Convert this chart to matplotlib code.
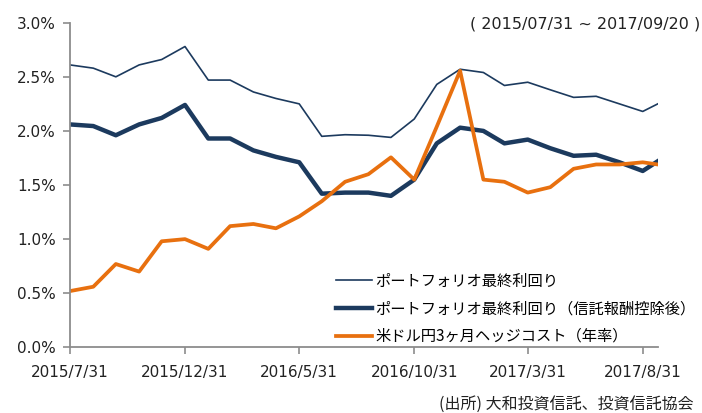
import matplotlib
matplotlib.use('Agg')
import matplotlib.pyplot as plt
import pandas as pd

plt.rcParams['font.family'] = ['DejaVu Sans', 'Noto Sans CJK JP']

# month-end points from 2015/7/31, last point 2017/9/20
dates = list(pd.date_range('2015-07-31', '2017-08-31', freq='ME')) + [pd.Timestamp('2017-09-20')]

portfolio_yield = [2.61, 2.58, 2.50, 2.61, 2.66, 2.78, 2.47, 2.47, 2.36, 2.30,
                   2.25, 1.95, 1.965, 1.96, 1.94, 2.11, 2.43, 2.57, 2.54, 2.42,
                   2.45, 2.38, 2.31, 2.32, 2.25, 2.18, 2.25]
yield_after_fee = [2.06, 2.045, 1.96, 2.06, 2.12, 2.24, 1.93, 1.93, 1.82, 1.76,
                   1.71, 1.42, 1.43, 1.43, 1.40, 1.55, 1.885, 2.03, 2.00, 1.885,
                   1.92, 1.84, 1.77, 1.78, 1.71, 1.63, 1.72]
hedge_cost = [0.52, 0.56, 0.77, 0.70, 0.98, 1.00, 0.91, 1.12, 1.14, 1.10,
              1.21, 1.35, 1.53, 1.60, 1.756, 1.55, 2.04, 2.556, 1.55, 1.53,
              1.43, 1.48, 1.65, 1.69, 1.69, 1.71, 1.69]

labels = ['ポートフォリオ最終利回り',
          'ポートフォリオ最終利回り（信託報酬控除後）',
          '米ドル円3ヶ月ヘッジコスト（年率）']
tick_dates = pd.to_datetime(['2015-07-31', '2015-12-31', '2016-05-31',
                             '2016-10-31', '2017-03-31', '2017-08-31'])
tick_labels = ['2015/7/31', '2015/12/31', '2016/5/31', '2016/10/31', '2017/3/31', '2017/8/31']
y_ticks = [0, 0.5, 1.0, 1.5, 2.0, 2.5, 3.0]

navy = '#1c3a5e'
orange = '#e8700f'

fig = plt.figure(figsize=(7.02, 4.13), dpi=100)
ax = fig.add_axes([0.0997, 0.159, 0.8373, 0.786])

ax.plot(dates, portfolio_yield, color=navy, lw=1.2, label=labels[0])
ax.plot(dates, yield_after_fee, color=navy, lw=3.2, label=labels[1])
ax.plot(dates, hedge_cost, color=orange, lw=2.7, label=labels[2])

ax.set_xlim(pd.Timestamp('2015-07-31'), pd.Timestamp('2017-09-20'))
ax.set_ylim(0, 3.0)
ax.set_yticks(y_ticks)
ax.set_yticklabels(['%.1f%%' % v for v in y_ticks], fontsize=11)
ax.set_xticks(tick_dates)
ax.set_xticklabels(tick_labels, fontsize=11)

for s in ['top', 'right']:
    ax.spines[s].set_visible(False)
for s in ['left', 'bottom']:
    ax.spines[s].set_color('#8c8c8c')
    ax.spines[s].set_linewidth(1.3)
ax.tick_params(axis='both', color='#8c8c8c', width=1.2, length=5, colors='#222222')
ax.tick_params(axis='x', pad=8)
ax.tick_params(axis='y', pad=5)

leg = ax.legend(loc='lower left', bbox_to_anchor=(0.43, -0.035), frameon=False,
                prop={'family': ['Noto Sans CJK JP'], 'size': 11},
                handlelength=2.3, handletextpad=0.25, labelspacing=0.7)

fig.text(0.997, 0.943, '( 2015/07/31 ~ 2017/09/20 )', ha='right', va='center',
         fontsize=11.5, color='#222222')
fig.text(0.988, 0.02, '(出所) 大和投資信託、投資信託協会', ha='right', va='center',
         fontsize=11.5, family=['Noto Sans CJK JP'], color='#222222')

fig.savefig('out.png', dpi=100)
